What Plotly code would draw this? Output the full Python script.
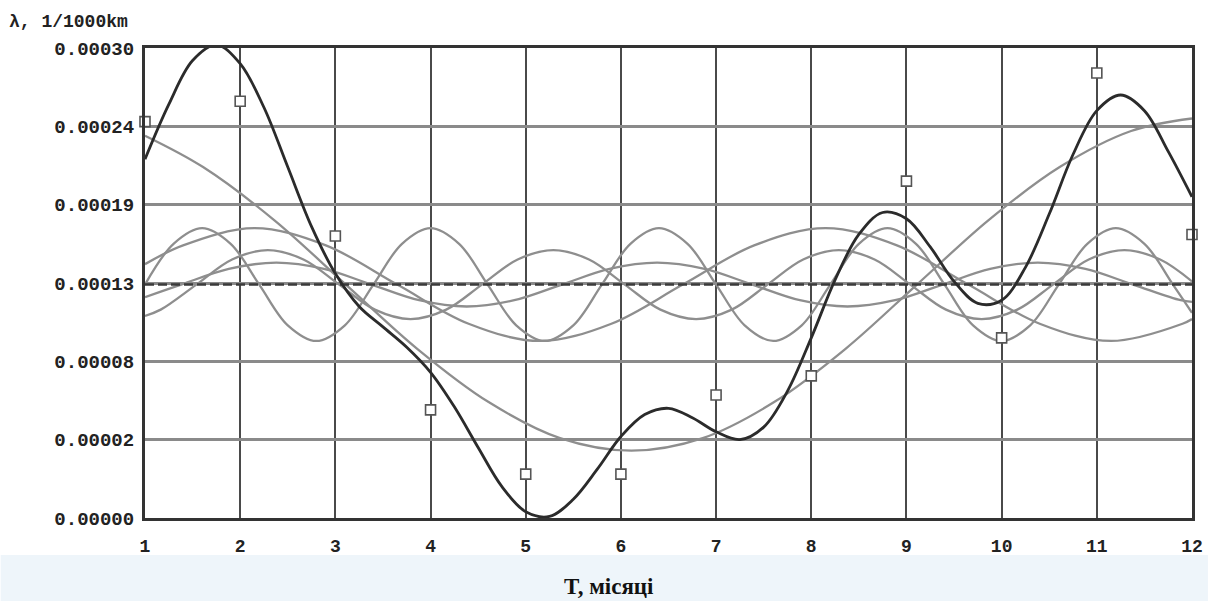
import plotly.graph_objects as go

# Failure rate λ, stored in units of 1e-4 (1/1000 km)
SCALE = 1e-4

months = [1, 2, 3, 4, 5, 6, 7, 8, 9, 10, 11, 12]
observed = [2.53, 2.66, 1.80, 0.69, 0.28, 0.28, 0.785, 0.907, 2.15, 1.15, 2.84, 1.81]
mean_level = 1.49

# Trigonometric approximation (sum of harmonics 1-5)
fit_x = [1.0, 1.25, 1.5, 1.75, 2.0, 2.25, 2.5, 2.75, 3.0, 3.25, 3.5, 3.75,
         4.0, 4.25, 4.5, 4.75, 5.0, 5.25, 5.5, 5.75, 6.0, 6.25, 6.5, 6.75,
         7.0, 7.25, 7.5, 7.75, 8.0, 8.25, 8.5, 8.75, 9.0, 9.25, 9.5, 9.75,
         10.0, 10.25, 10.5, 10.75, 11.0, 11.25, 11.5, 11.75, 12.0]
fit_y = [2.29, 2.64, 2.92, 3.02, 2.90, 2.62, 2.24, 1.86, 1.56, 1.35, 1.22, 1.09,
         0.93, 0.71, 0.45, 0.20, 0.04, 0.01, 0.12, 0.31, 0.52, 0.66, 0.70, 0.64,
         0.55, 0.50, 0.58, 0.81, 1.15, 1.52, 1.81, 1.95, 1.91, 1.73, 1.51, 1.37,
         1.39, 1.60, 1.94, 2.32, 2.60, 2.70, 2.60, 2.34, 2.05]

# Individual harmonics, each drawn around the mean level
h1_x = [1.0, 1.61, 2.36, 3.11, 3.86, 4.61, 5.36, 6.11, 6.86, 7.61, 8.36, 9.11,
        9.86, 10.61, 11.36, 12.0]
h1_y = [2.44, 2.24, 1.90, 1.49, 1.08, 0.74, 0.51, 0.43, 0.51, 0.74, 1.08, 1.49,
        1.90, 2.24, 2.47, 2.55]

h2_x = [1.0, 1.4, 2.15, 2.9, 3.65, 4.4, 5.15, 5.9, 6.65, 7.4, 8.15, 8.9, 9.65,
        10.4, 11.15, 11.9, 12.0]
h2_y = [1.62, 1.74, 1.85, 1.74, 1.49, 1.24, 1.13, 1.24, 1.49, 1.74, 1.85, 1.74,
        1.49, 1.24, 1.13, 1.24, 1.27]

h3_x = [1.0, 1.38, 1.88, 2.38, 2.88, 3.38, 3.88, 4.38, 4.88, 5.38, 5.88, 6.38,
        6.88, 7.38, 7.88, 8.38, 8.88, 9.38, 9.88, 10.38, 10.88, 11.38, 11.88, 12.0]
h3_y = [1.41, 1.49, 1.59, 1.63, 1.59, 1.49, 1.39, 1.35, 1.39, 1.49, 1.59, 1.63,
        1.59, 1.49, 1.39, 1.35, 1.39, 1.49, 1.59, 1.63, 1.59, 1.49, 1.39, 1.38]

h4_x = [1.0, 1.165, 1.54, 1.915, 2.29, 2.665, 3.04, 3.415, 3.79, 4.165, 4.54,
        4.915, 5.29, 5.665, 6.04, 6.415, 6.79, 7.165, 7.54, 7.915, 8.29, 8.665,
        9.04, 9.415, 9.79, 10.165, 10.54, 10.915, 11.29, 11.665, 12.0]
h4_y = [1.29, 1.33, 1.49, 1.65, 1.71, 1.65, 1.49, 1.33, 1.27, 1.33, 1.49,
        1.65, 1.71, 1.65, 1.49, 1.33, 1.27, 1.33, 1.49, 1.65, 1.71, 1.65,
        1.49, 1.33, 1.27, 1.33, 1.49, 1.65, 1.71, 1.65, 1.51]

h5_x = [1.0, 1.3, 1.6, 1.9, 2.2, 2.5, 2.8, 3.1, 3.4, 3.7, 4.0, 4.3, 4.6, 4.9,
        5.2, 5.5, 5.8, 6.1, 6.4, 6.7, 7.0, 7.3, 7.6, 7.9, 8.2, 8.5, 8.8, 9.1,
        9.4, 9.7, 10.0, 10.3, 10.6, 10.9, 11.2, 11.5, 11.8, 12.0]
h5_y = [1.49, 1.75, 1.85, 1.75, 1.49, 1.23, 1.13, 1.23, 1.49, 1.75, 1.85, 1.75,
        1.49, 1.23, 1.13, 1.23, 1.49, 1.75, 1.85, 1.75, 1.49, 1.23, 1.13, 1.23,
        1.49, 1.75, 1.85, 1.75, 1.49, 1.23, 1.13, 1.23, 1.49, 1.75, 1.85, 1.75,
        1.49, 1.31]

y_tick_vals = [0.0, 0.5, 1.0, 1.5, 2.0, 2.5, 3.0]
y_tick_text = ["0.00000", "0.00002", "0.00008", "0.00013", "0.00019", "0.00024", "0.00030"]


def scaled(values):
    return [v * SCALE for v in values]


fig = go.Figure()

harmonics = [(h1_x, h1_y), (h2_x, h2_y), (h3_x, h3_y), (h4_x, h4_y), (h5_x, h5_y)]
for hx, hy in harmonics:
    fig.add_trace(go.Scatter(
        x=hx, y=scaled(hy), mode="lines",
        line=dict(color="#8e8e8e", width=2.3, shape="spline", smoothing=1.0),
        hoverinfo="skip"))

fig.add_trace(go.Scatter(
    x=[months[0], months[-1]], y=scaled([mean_level, mean_level]), mode="lines",
    line=dict(color="#3a3a3a", width=2.5, dash="9px,4px")))

fig.add_trace(go.Scatter(
    x=fit_x, y=scaled(fit_y), mode="lines",
    line=dict(color="#2b2b2b", width=2.8, shape="spline", smoothing=1.0)))

fig.add_trace(go.Scatter(
    x=months, y=scaled(observed), mode="markers", cliponaxis=False,
    marker=dict(symbol="square", size=10, color="white",
                line=dict(color="#555555", width=1.6))))

# plot area in pixels: left 145, right 1197, top 48, bottom 518
L, R, T, B = 145, 1197, 48, 518
W, H = R - L, B - T


def px_x(p):
    return (p - L) / W


def px_y(p):
    return (B - p) / H


fig.update_layout(
    width=1213, height=601, autosize=False,
    margin=dict(l=L, r=1213 - R - 6, t=T, b=601 - B),
    plot_bgcolor="white", paper_bgcolor="white",
    showlegend=False,
    xaxis=dict(
        range=[1, 12], tickvals=months, ticktext=[str(m) for m in months],
        showgrid=True, gridcolor="#4a4a4a", gridwidth=2,
        showline=True, linecolor="#333333", linewidth=3, mirror=True,
        zeroline=False, ticks="", ticklabelstandoff=9,
        tickfont=dict(family="Liberation Mono", size=18, color="#222222", weight="bold"),
    ),
    yaxis=dict(
        range=[0, 3.0 * SCALE], tickvals=scaled(y_tick_vals), ticktext=y_tick_text,
        showgrid=True, gridcolor="#8a8a8a", gridwidth=3,
        showline=True, linecolor="#333333", linewidth=3, mirror=True,
        zeroline=False, ticks="", ticklabelstandoff=4,
        tickfont=dict(family="Liberation Mono", size=19, color="#222222", weight="bold"),
    ),
    shapes=[dict(type="rect", xref="paper", yref="paper", layer="below",
                 x0=px_x(0), x1=px_x(1213), y0=px_y(555), y1=px_y(601),
                 fillcolor="#eef5fa", line=dict(width=0))],
    annotations=[
        dict(text="λ, 1/1000km", xref="paper", yref="paper",
             x=px_x(6), y=px_y(22), xanchor="left", yanchor="middle", showarrow=False,
             font=dict(family="Liberation Mono", size=18, color="#222222", weight="bold")),
        dict(text="T, місяці", xref="paper", yref="paper",
             x=px_x(611), y=px_y(586), xanchor="center", yanchor="middle", showarrow=False,
             font=dict(family="Liberation Serif", size=23, color="#111111", weight="bold")),
    ],
)

fig.write_html("out.html")
